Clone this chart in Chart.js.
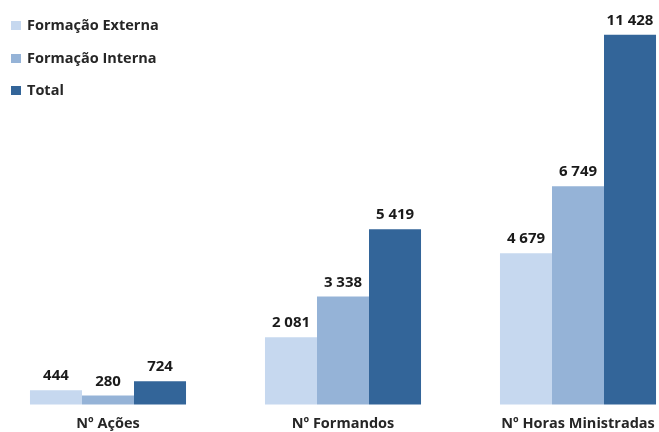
<!DOCTYPE html>
<html>
<head>
<meta charset="utf-8">
<script src="https://cdn.jsdelivr.net/npm/chart.js@4/dist/chart.umd.min.js"></script>
<style>
  html, body { margin: 0; padding: 0; background: #fff; }
  #wrap { position: relative; width: 659px; height: 432px; }
  #legend { position: absolute; left: 10px; top: 15px; font-family: "Open Sans", sans-serif; font-weight: 700; font-size: 14.5px; color: #262626; }
  #legend div { height: 32.5px; display: flex; align-items: flex-start; line-height: 20px; }
  #legend span.box { display: inline-block; width: 10px; height: 9px; margin: 6px 6px 0 1px; }
</style>
</head>
<body>
<div id="wrap">
  <canvas id="c" width="659" height="432"></canvas>
  <div id="legend"></div>
</div>
<script>
const categories = ["Nº Ações", "Nº Formandos", "Nº Horas Ministradas"];
const seriesNames = ["Formação Externa", "Formação Interna", "Total"];
const externa = [444, 2081, 4679];
const interna = [280, 3338, 6749];
const total = [724, 5419, 11428];
const colors = ["#c6d8ef", "#95b3d7", "#336599"];

const fmt = v => String(v).replace(/\B(?=(\d{3})+(?!\d))/g, " ");

const labelPlugin = {
  id: 'barLabels',
  afterDatasetsDraw(chart) {
    const ctx = chart.ctx;
    ctx.save();
    ctx.font = "bold 15px 'Open Sans', sans-serif";
    ctx.fillStyle = "#1a1a1a";
    ctx.textAlign = "center";
    ctx.textBaseline = "alphabetic";
    chart.data.datasets.forEach((ds, i) => {
      chart.getDatasetMeta(i).data.forEach((bar, j) => {
        ctx.fillText(fmt(ds.data[j]), bar.x, bar.y - 10);
      });
    });
    ctx.restore();
  }
};

const legendEl = document.getElementById('legend');
seriesNames.forEach((n, i) => {
  const d = document.createElement('div');
  d.innerHTML = '<span class="box" style="background:' + colors[i] + '"></span>' + n;
  legendEl.appendChild(d);
});

new Chart(document.getElementById('c'), {
  type: 'bar',
  data: {
    labels: categories,
    datasets: [
      { label: seriesNames[0], data: externa, backgroundColor: colors[0], clip: false },
      { label: seriesNames[1], data: interna, backgroundColor: colors[1], clip: false },
      { label: seriesNames[2], data: total, backgroundColor: colors[2], clip: false }
    ]
  },
  options: {
    responsive: false,
    animation: false,
    layout: { padding: { left: 108, right: 81, top: 0, bottom: -12 } },
    plugins: { legend: { display: false }, tooltip: { enabled: false } },
    datasets: { bar: { categoryPercentage: 0.664, barPercentage: 1.0 } },
    scales: {
      x: {
        offset: false,
        grid: { display: false, drawTicks: false },
        border: { display: false },
        afterFit(scale) { scale.paddingLeft = 0; scale.paddingRight = 0; },
        ticks: { color: "#262626", padding: 11, maxRotation: 0, autoSkip: false,
                 font: { family: "'Open Sans', sans-serif", size: 14.5, weight: 'bold' } }
      },
      y: { display: false, min: 0, max: 12500 }
    }
  },
  plugins: [labelPlugin]
});
</script>
</body>
</html>
